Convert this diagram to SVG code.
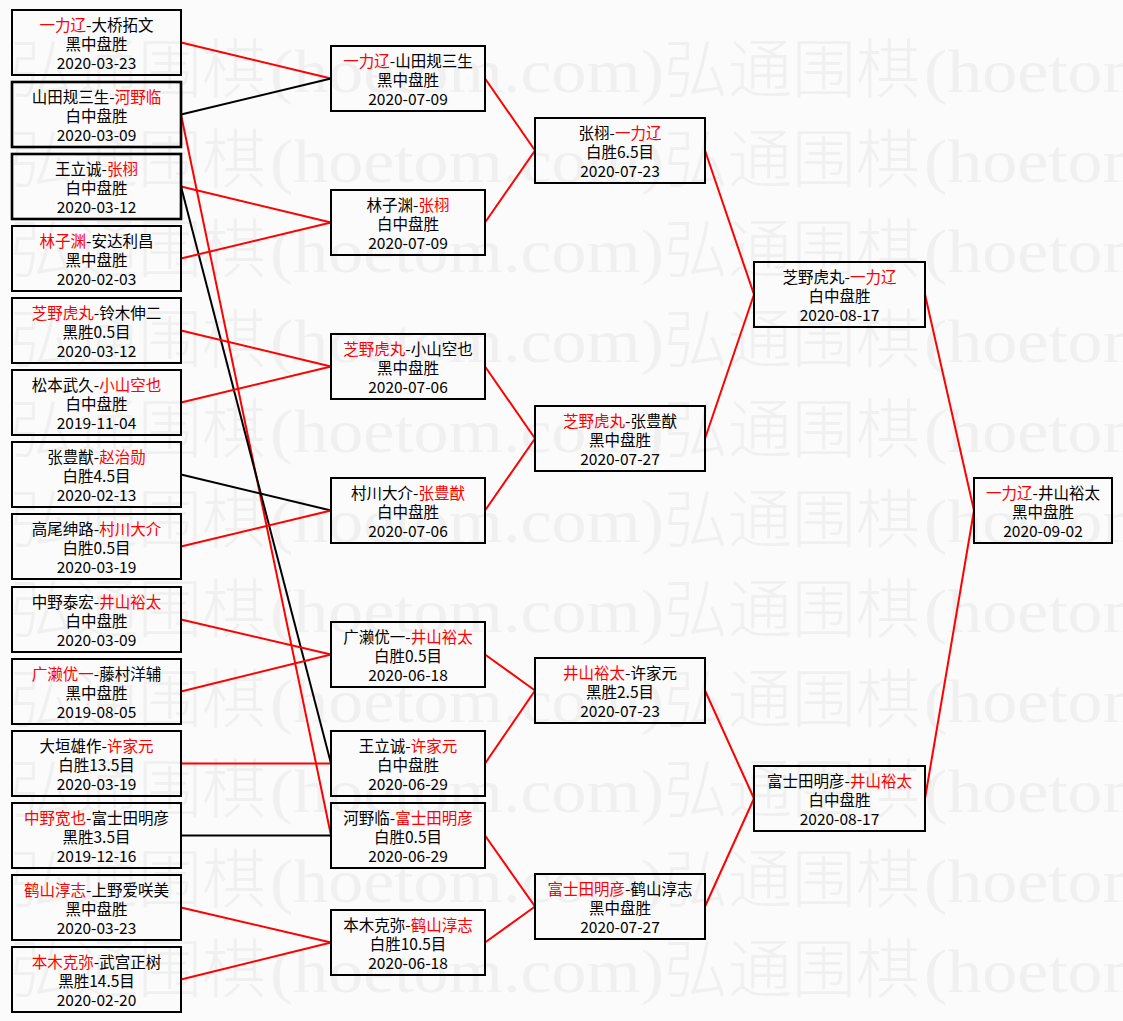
<svg xmlns="http://www.w3.org/2000/svg" width="1123" height="1021" viewBox="0 0 1123 1021">
<style>
.wm{fill:#f0f0f0;font-family:"Noto Sans CJK SC",sans-serif;font-size:64px;font-weight:200}
.wl{fill:#f0f0f0;font-family:"Liberation Serif",serif;font-size:62px}
.box{fill:none;stroke:#000;stroke-width:2}
.box.b{stroke-width:2.6}
.t{font-family:"Noto Sans CJK SC",sans-serif;font-size:15.5px;fill:#000;text-anchor:middle}
.w{fill:#ff0000}
.r{stroke:#ff0000;stroke-width:2;fill:none}
.k{stroke:#000;stroke-width:2;fill:none}
</style>
<rect width="1123" height="1021" fill="#fbfbfb"/>
<g id="watermark">
<g id="wm0" transform="translate(0,92)"><text class="wm" x="10" y="0">弘通围棋</text><text class="wl" x="270" y="0" textLength="394" lengthAdjust="spacingAndGlyphs">(hoetom.com)</text><text class="wm" x="664" y="0">弘通围棋</text><text class="wl" x="924" y="0" textLength="394" lengthAdjust="spacingAndGlyphs">(hoetom.com)</text></g>
<use href="#wm0" y="90"/><use href="#wm0" y="180"/><use href="#wm0" y="270"/><use href="#wm0" y="360"/><use href="#wm0" y="450"/><use href="#wm0" y="540"/><use href="#wm0" y="630"/><use href="#wm0" y="720"/><use href="#wm0" y="810"/><use href="#wm0" y="900"/>
</g>
<g id="connectors">
<line class="r" x1="181" y1="42.5" x2="331" y2="78.5"/>
<line class="k" x1="181" y1="114.5" x2="331" y2="78.5"/>
<line class="r" x1="181" y1="114.5" x2="331" y2="835.5"/>
<line class="r" x1="181" y1="186.5" x2="331" y2="222.5"/>
<line class="k" x1="181" y1="186.5" x2="331" y2="763.5"/>
<line class="r" x1="181" y1="258.5" x2="331" y2="222.5"/>
<line class="r" x1="181" y1="330.5" x2="331" y2="366.5"/>
<line class="r" x1="181" y1="402.5" x2="331" y2="366.5"/>
<line class="k" x1="181" y1="474.5" x2="331" y2="510.5"/>
<line class="r" x1="181" y1="546.5" x2="331" y2="510.5"/>
<line class="r" x1="181" y1="619.5" x2="331" y2="654.5"/>
<line class="r" x1="181" y1="691.5" x2="331" y2="654.5"/>
<line class="r" x1="181" y1="763.5" x2="331" y2="763.5"/>
<line class="k" x1="181" y1="835.5" x2="331" y2="835.5"/>
<line class="r" x1="181" y1="907.5" x2="331" y2="942.5"/>
<line class="r" x1="181" y1="979.5" x2="331" y2="942.5"/>
<line class="r" x1="485" y1="78.5" x2="535" y2="150.5"/>
<line class="r" x1="485" y1="222.5" x2="535" y2="150.5"/>
<line class="r" x1="485" y1="366.5" x2="535" y2="438.5"/>
<line class="r" x1="485" y1="510.5" x2="535" y2="438.5"/>
<line class="r" x1="485" y1="654.5" x2="535" y2="690.5"/>
<line class="r" x1="485" y1="763.5" x2="535" y2="690.5"/>
<line class="r" x1="485" y1="835.5" x2="535" y2="906.5"/>
<line class="r" x1="485" y1="942.5" x2="535" y2="906.5"/>
<line class="r" x1="705" y1="150.5" x2="754" y2="294.5"/>
<line class="r" x1="705" y1="438.5" x2="754" y2="294.5"/>
<line class="r" x1="705" y1="690.5" x2="754" y2="798.5"/>
<line class="r" x1="705" y1="906.5" x2="754" y2="798.5"/>
<line class="r" x1="925" y1="294.5" x2="974" y2="510.5"/>
<line class="r" x1="925" y1="798.5" x2="974" y2="510.5"/>
</g>
<g id="n1-1"><rect class="box" x="12" y="10" width="169" height="65"/><text class="t" x="96.5" y="31"><tspan class="w">一力辽</tspan>-大桥拓文</text><text class="t" x="96.5" y="50">黑中盘胜</text><text class="t" x="96.5" y="69">2020-03-23</text></g>
<g id="n1-2"><rect class="box b" x="12" y="82" width="169" height="65"/><text class="t" x="96.5" y="103">山田规三生-<tspan class="w">河野临</tspan></text><text class="t" x="96.5" y="122">白中盘胜</text><text class="t" x="96.5" y="141">2020-03-09</text></g>
<g id="n1-3"><rect class="box b" x="12" y="154" width="169" height="65"/><text class="t" x="96.5" y="175">王立诚-<tspan class="w">张栩</tspan></text><text class="t" x="96.5" y="194">白中盘胜</text><text class="t" x="96.5" y="213">2020-03-12</text></g>
<g id="n1-4"><rect class="box" x="12" y="226" width="169" height="65"/><text class="t" x="96.5" y="247"><tspan class="w">林子渊</tspan>-安达利昌</text><text class="t" x="96.5" y="266">黑中盘胜</text><text class="t" x="96.5" y="285">2020-02-03</text></g>
<g id="n1-5"><rect class="box" x="12" y="298" width="169" height="65"/><text class="t" x="96.5" y="319"><tspan class="w">芝野虎丸</tspan>-铃木伸二</text><text class="t" x="96.5" y="338">黑胜0.5目</text><text class="t" x="96.5" y="357">2020-03-12</text></g>
<g id="n1-6"><rect class="box" x="12" y="370" width="169" height="65"/><text class="t" x="96.5" y="391">松本武久-<tspan class="w">小山空也</tspan></text><text class="t" x="96.5" y="410">白中盘胜</text><text class="t" x="96.5" y="429">2019-11-04</text></g>
<g id="n1-7"><rect class="box" x="12" y="442" width="169" height="65"/><text class="t" x="96.5" y="463">张豊猷-<tspan class="w">赵治勋</tspan></text><text class="t" x="96.5" y="482">白胜4.5目</text><text class="t" x="96.5" y="501">2020-02-13</text></g>
<g id="n1-8"><rect class="box" x="12" y="514" width="169" height="65"/><text class="t" x="96.5" y="535">高尾绅路-<tspan class="w">村川大介</tspan></text><text class="t" x="96.5" y="554">白胜0.5目</text><text class="t" x="96.5" y="573">2020-03-19</text></g>
<g id="n1-9"><rect class="box" x="12" y="587" width="169" height="65"/><text class="t" x="96.5" y="608">中野泰宏-<tspan class="w">井山裕太</tspan></text><text class="t" x="96.5" y="627">白中盘胜</text><text class="t" x="96.5" y="646">2020-03-09</text></g>
<g id="n1-10"><rect class="box" x="12" y="659" width="169" height="65"/><text class="t" x="96.5" y="680"><tspan class="w">广濑优一</tspan>-藤村洋辅</text><text class="t" x="96.5" y="699">黑中盘胜</text><text class="t" x="96.5" y="718">2019-08-05</text></g>
<g id="n1-11"><rect class="box" x="12" y="731" width="169" height="65"/><text class="t" x="96.5" y="752">大垣雄作-<tspan class="w">许家元</tspan></text><text class="t" x="96.5" y="771">白胜13.5目</text><text class="t" x="96.5" y="790">2020-03-19</text></g>
<g id="n1-12"><rect class="box" x="12" y="803" width="169" height="65"/><text class="t" x="96.5" y="824"><tspan class="w">中野宽也</tspan>-富士田明彦</text><text class="t" x="96.5" y="843">黑胜3.5目</text><text class="t" x="96.5" y="862">2019-12-16</text></g>
<g id="n1-13"><rect class="box" x="12" y="875" width="169" height="65"/><text class="t" x="96.5" y="896"><tspan class="w">鹤山淳志</tspan>-上野爱咲美</text><text class="t" x="96.5" y="915">黑中盘胜</text><text class="t" x="96.5" y="934">2020-03-23</text></g>
<g id="n1-14"><rect class="box" x="12" y="947" width="169" height="65"/><text class="t" x="96.5" y="968"><tspan class="w">本木克弥</tspan>-武宫正树</text><text class="t" x="96.5" y="987">黑胜14.5目</text><text class="t" x="96.5" y="1006">2020-02-20</text></g>
<g id="n2-1"><rect class="box" x="331" y="46" width="154" height="65"/><text class="t" x="408" y="67"><tspan class="w">一力辽</tspan>-山田规三生</text><text class="t" x="408" y="86">黑中盘胜</text><text class="t" x="408" y="105">2020-07-09</text></g>
<g id="n2-2"><rect class="box" x="331" y="190" width="154" height="65"/><text class="t" x="408" y="211">林子渊-<tspan class="w">张栩</tspan></text><text class="t" x="408" y="230">白中盘胜</text><text class="t" x="408" y="249">2020-07-09</text></g>
<g id="n2-3"><rect class="box" x="331" y="334" width="154" height="65"/><text class="t" x="408" y="355"><tspan class="w">芝野虎丸</tspan>-小山空也</text><text class="t" x="408" y="374">黑中盘胜</text><text class="t" x="408" y="393">2020-07-06</text></g>
<g id="n2-4"><rect class="box" x="331" y="478" width="154" height="65"/><text class="t" x="408" y="499">村川大介-<tspan class="w">张豊猷</tspan></text><text class="t" x="408" y="518">白中盘胜</text><text class="t" x="408" y="537">2020-07-06</text></g>
<g id="n2-5"><rect class="box" x="331" y="622" width="154" height="65"/><text class="t" x="408" y="643">广濑优一-<tspan class="w">井山裕太</tspan></text><text class="t" x="408" y="662">白胜0.5目</text><text class="t" x="408" y="681">2020-06-18</text></g>
<g id="n2-6"><rect class="box" x="331" y="731" width="154" height="65"/><text class="t" x="408" y="752">王立诚-<tspan class="w">许家元</tspan></text><text class="t" x="408" y="771">白中盘胜</text><text class="t" x="408" y="790">2020-06-29</text></g>
<g id="n2-7"><rect class="box" x="331" y="803" width="154" height="65"/><text class="t" x="408" y="824">河野临-<tspan class="w">富士田明彦</tspan></text><text class="t" x="408" y="843">白胜0.5目</text><text class="t" x="408" y="862">2020-06-29</text></g>
<g id="n2-8"><rect class="box" x="331" y="910" width="154" height="65"/><text class="t" x="408" y="931">本木克弥-<tspan class="w">鹤山淳志</tspan></text><text class="t" x="408" y="950">白胜10.5目</text><text class="t" x="408" y="969">2020-06-18</text></g>
<g id="n3-1"><rect class="box" x="535" y="118" width="170" height="65"/><text class="t" x="620" y="139">张栩-<tspan class="w">一力辽</tspan></text><text class="t" x="620" y="158">白胜6.5目</text><text class="t" x="620" y="177">2020-07-23</text></g>
<g id="n3-2"><rect class="box" x="535" y="406" width="170" height="65"/><text class="t" x="620" y="427"><tspan class="w">芝野虎丸</tspan>-张豊猷</text><text class="t" x="620" y="446">黑中盘胜</text><text class="t" x="620" y="465">2020-07-27</text></g>
<g id="n3-3"><rect class="box" x="535" y="658" width="170" height="65"/><text class="t" x="620" y="679"><tspan class="w">井山裕太</tspan>-许家元</text><text class="t" x="620" y="698">黑胜2.5目</text><text class="t" x="620" y="717">2020-07-23</text></g>
<g id="n3-4"><rect class="box" x="535" y="874" width="170" height="65"/><text class="t" x="620" y="895"><tspan class="w">富士田明彦</tspan>-鹤山淳志</text><text class="t" x="620" y="914">黑中盘胜</text><text class="t" x="620" y="933">2020-07-27</text></g>
<g id="n4-1"><rect class="box" x="754" y="262" width="171" height="65"/><text class="t" x="839.5" y="283">芝野虎丸-<tspan class="w">一力辽</tspan></text><text class="t" x="839.5" y="302">白中盘胜</text><text class="t" x="839.5" y="321">2020-08-17</text></g>
<g id="n4-2"><rect class="box" x="754" y="766" width="171" height="65"/><text class="t" x="839.5" y="787">富士田明彦-<tspan class="w">井山裕太</tspan></text><text class="t" x="839.5" y="806">白中盘胜</text><text class="t" x="839.5" y="825">2020-08-17</text></g>
<g id="n5-1"><rect class="box" x="974" y="478" width="138" height="65"/><text class="t" x="1043" y="499"><tspan class="w">一力辽</tspan>-井山裕太</text><text class="t" x="1043" y="518">黑中盘胜</text><text class="t" x="1043" y="537">2020-09-02</text></g>
</svg>
